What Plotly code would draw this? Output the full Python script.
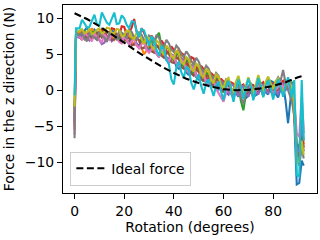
import plotly.graph_objects as go

# common rotation grid (degrees)
x_start = [0.0, 0.6]
x_mid = list(range(2, 87))  # 2, 3, ..., 86 degrees
x_end = [87.5, 88.5, 89.5, 90.5, 91.5, 92.3]
rotation = x_start + x_mid + x_end

run_blue = [-4.5, 8.0,
            7.6, 7.2, 8.3, 8.7, 7.9, 7.4, 8.4, 8.0, 7.7, 8.5,
            8.2, 7.3, 7.5, 8.3, 8.0, 7.4, 7.2, 7.9, 7.8, 7.0,
            6.6, 7.6, 7.3, 6.5, 6.1, 7.1, 6.9, 5.8, 5.4, 6.5,
            6.0, 5.1, 4.6, 5.6, 5.2, 4.2, 3.9, 4.9, 4.4, 3.3,
            3.0, 4.0, 3.6, 2.5, 2.1, 3.1, 2.9, 1.8, 1.5, 2.4,
            2.0, 0.9, 0.6, 1.7, 1.4, 0.3, 0.1, 1.2, 0.8, -0.3,
            -0.6, 0.9, 0.7, -0.4, -0.9, 0.6, 0.5, -1.1, -0.8, 0.9,
            0.6, -0.7, -0.5, 1.0, 0.9, -0.3, -0.6, 1.3, 1.1, -0.5,
            -1.0, 0.2, 0.8, -1.5, -4.6,
            0.5, -4.0, -13.1, -12.9, -9.8, -10.5]
run_orange = [-3.5, 8.1,
              7.9, 8.4, 7.4, 7.8, 8.2, 8.6, 7.6, 7.2, 8.3, 7.9,
              7.5, 8.0, 8.1, 7.4, 7.0, 7.7, 7.8, 7.2, 6.8, 7.1,
              7.5, 6.9, 6.2, 7.2, 6.9, 5.9, 5.0, 5.5, 6.4, 6.0,
              5.3, 6.3, 6.0, 5.1, 4.6, 5.0, 5.4, 4.7, 4.0, 4.9,
              5.8, 4.1, 3.2, 4.3, 3.9, 3.0, 2.4, 3.3, 3.0, 2.0,
              1.5, 2.6, 2.2, 1.2, 0.8, 1.9, 1.6, 0.5, 0.0, 1.1,
              0.9, 0.2, -0.4, 0.9, 0.6, -0.2, -0.7, 0.2, 0.4, 0.8,
              -0.6, 0.1, 0.7, 0.3, -0.5, 0.4, 0.9, 0.6, -0.3, 0.5,
              1.2, 0.6, 0.1, 1.0, 0.9,
              0.5, -2.5, -8.5, -9.0, -6.0, -7.5]
run_green = [-2.5, 7.8,
             7.7, 8.0, 8.2, 7.4, 7.5, 8.1, 8.0, 7.3, 7.4, 8.2,
             8.1, 7.5, 7.2, 8.0, 7.9, 7.1, 6.9, 7.8, 7.6, 6.8,
             6.5, 7.2, 7.4, 6.3, 6.0, 7.1, 7.0, 5.9, 5.6, 6.9,
             6.6, 7.4, 8.0, 6.2, 5.1, 6.0, 5.7, 4.6, 4.2, 5.2,
             4.8, 3.6, 3.3, 4.2, 3.9, 2.8, 2.2, 3.2, 2.9, 1.6,
             1.2, 2.4, 2.1, 0.9, 0.4, 1.6, 1.4, 0.1, -0.3, 1.2,
             1.0, -0.5, -1.0, 0.4, 0.8, -1.5, -2.8, -0.6, 0.5, 0.9,
             -1.2, -0.3, 0.6, 0.1, -0.8, 0.2, 1.0, 0.4, -0.6, 0.3,
             0.8, 0.1, -0.2, 0.9, 0.4,
             1.2, -1.5, -7.5, -8.0, -4.0, -6.0]
run_red = [-5.5, 7.7,
           7.4, 7.0, 8.0, 7.8, 7.2, 7.6, 7.9, 7.1, 7.5, 8.4,
           8.3, 7.4, 7.7, 8.6, 8.5, 7.5, 7.6, 8.9, 8.8, 7.6,
           8.0, 8.7, 9.9, 8.1, 7.4, 8.6, 8.0, 7.0, 6.8, 7.6,
           7.1, 6.2, 5.9, 6.9, 6.4, 5.5, 5.0, 6.1, 5.6, 4.5,
           4.3, 5.2, 4.9, 3.7, 3.3, 4.6, 4.4, 3.1, 2.5, 3.4,
           2.9, 1.8, 1.4, 2.4, 2.0, 0.9, 0.5, 1.6, 1.2, 0.1,
           -0.2, 1.1, 0.9, -0.1, -0.5, 0.6, 0.8, -0.2, -0.7, 0.5,
           0.7, 0.0, -0.4, 0.8, 1.1, 0.2, -0.2, 0.6, 0.9, -0.1,
           0.0, 1.0, 1.3, 0.5, 0.2,
           0.8, -3.0, -9.5, -9.0, -5.0, -8.0]
run_purple = [-4.0, 7.4,
              7.3, 7.7, 7.8, 7.2, 6.9, 7.5, 7.6, 7.1, 7.0, 6.4,
              6.6, 7.4, 7.5, 6.8, 7.1, 7.6, 7.8, 6.9, 7.2, 7.0,
              6.5, 6.9, 7.3, 6.4, 6.0, 6.6, 6.8, 5.9, 5.4, 5.8,
              6.1, 5.2, 4.9, 5.8, 5.5, 4.6, 4.3, 5.0, 4.8, 3.8,
              3.5, 4.5, 4.2, 3.0, 2.6, 3.5, 3.3, 2.2, 1.8, 2.6,
              2.4, 1.3, 0.9, 1.9, 1.7, 0.6, 0.3, 1.3, 1.0, -0.1,
              -0.4, 0.9, 0.7, -0.2, -0.8, 0.4, 0.6, -0.5, -0.9, 0.6,
              0.4, -0.2, -0.6, 0.6, 0.8, -0.1, -0.4, 0.9, 0.7, -0.2,
              -0.5, 0.6, 1.0, 0.0, 0.3,
              1.0, -2.0, -8.0, -8.5, -4.5, -7.0]
run_brown = [-5.0, 7.6,
             7.6, 7.9, 7.1, 7.5, 7.9, 7.2, 7.3, 8.0, 8.0, 7.3,
             7.4, 8.1, 7.9, 7.0, 7.1, 7.8, 7.6, 6.8, 6.9, 7.4,
             7.2, 6.2, 6.4, 7.2, 7.0, 5.8, 5.9, 6.8, 6.6, 5.4,
             5.2, 6.1, 5.9, 4.8, 4.5, 5.3, 5.1, 3.9, 3.8, 4.6,
             4.4, 3.2, 3.0, 3.8, 3.6, 2.3, 2.0, 2.9, 2.7, 1.5,
             1.3, 2.1, 1.9, 0.8, 0.6, 1.5, 1.3, 0.1, -0.1, 0.8,
             0.6, -0.3, -0.6, 0.6, 0.4, -0.6, -0.9, 0.1, 0.3, -0.4,
             -0.7, 0.2, 0.5, -0.1, -0.4, 0.6, 0.8, -0.2, -0.5, 0.5,
             0.9, 0.0, -0.3, 0.4, 0.7,
             0.2, -2.5, -10.0, -9.5, -6.5, -8.5]
run_pink = [-6.2, 7.5,
            7.5, 7.0, 8.1, 7.7, 7.3, 6.8, 7.9, 7.4, 7.1, 6.6,
            7.8, 7.3, 7.0, 7.7, 7.6, 7.2, 6.7, 6.5, 7.5, 7.0,
            6.3, 6.8, 7.1, 6.2, 5.8, 6.4, 6.7, 5.6, 5.2, 5.7,
            6.0, 5.0, 4.7, 5.7, 5.4, 4.4, 4.0, 4.9, 4.7, 3.7,
            3.2, 4.2, 3.9, 2.8, 2.4, 3.3, 3.1, 2.0, 1.7, 2.6,
            2.3, 1.0, 0.6, 1.7, 1.5, 0.2, -0.5, -1.0, -1.6, -0.4,
            0.4, -0.5, -1.2, 0.2, 0.5, -0.4, -1.0, -0.2, 0.3, 0.5,
            -0.9, -0.2, 0.6, 0.2, -0.7, 0.3, 0.9, 0.5, -0.4, 0.1,
            0.5, 1.2, 0.2, 0.9, 0.7,
            -0.5, -1.4, -6.0, -6.5, -1.0, -5.5]
run_gray = [-6.7, 7.9,
            7.6, 8.0, 7.2, 6.8, 7.9, 7.6, 7.4, 7.0, 8.1, 7.6,
            7.3, 6.7, 8.0, 7.9, 7.5, 7.0, 8.3, 8.0, 7.7, 7.2,
            8.4, 8.1, 7.4, 7.0, 8.0, 7.7, 7.0, 6.8, 7.6, 7.4,
            6.6, 7.7, 7.3, 6.4, 6.0, 7.0, 6.5, 5.6, 5.3, 6.2,
            5.8, 5.0, 4.6, 5.4, 4.9, 4.1, 3.5, 4.5, 4.0, 3.0,
            2.6, 3.4, 3.0, 2.1, 1.6, 2.4, 2.0, 1.0, 0.7, 1.5,
            1.1, 0.3, -0.2, 1.0, 0.6, -1.0, -1.9, -0.4, 0.5, 1.0,
            -1.0, 0.2, 1.3, 0.4, -0.8, 0.7, 1.6, 1.0, 0.0, 1.1,
            1.8, 1.3, 2.8, 1.0, 0.0,
            -1.5, -3.5, -9.0, -10.5, -8.0, -9.5]
run_olive = [-2.3, 8.3,
             8.2, 8.5, 7.9, 8.1, 8.5, 7.8, 8.0, 8.4, 8.6, 7.9,
             8.1, 8.7, 8.6, 8.0, 7.9, 8.5, 8.4, 7.5, 7.6, 8.3,
             8.2, 7.4, 7.1, 8.0, 7.8, 7.0, 6.4, 7.5, 7.2, 6.1,
             5.7, 6.9, 6.6, 5.4, 5.0, 6.2, 5.8, 4.7, 4.4, 5.5,
             5.1, 3.9, 3.6, 4.6, 4.3, 3.0, 2.6, 3.7, 3.4, 2.2,
             1.8, 2.9, 2.7, 1.4, 1.0, 2.2, 1.9, 0.6, 0.3, 1.4,
             1.7, 0.4, -0.4, 1.2, 2.0, 0.5, -0.6, 0.6, 1.8, 0.8,
             -0.5, 0.8, 2.1, 0.9, -0.2, 1.2, 1.9, 0.9, 0.2, 1.3,
             1.6, 0.4, -0.3, 0.8, 1.2,
             0.6, -2.0, -10.2, -9.8, -7.0, -9.0]
run_cyan = [-0.7, 8.6,
            8.6, 9.8, 9.3, 8.7, 8.8, 9.7, 10.5, 9.2, 9.0, 10.8,
            10.2, 9.4, 9.1, 10.0, 10.8, 9.2, 9.3, 10.4, 10.0, 9.1,
            8.6, 9.6, 9.5, 8.2, 7.4, 8.5, 8.3, 7.2, 6.2, 7.5,
            7.0, 5.6, 4.8, 6.1, 5.8, 4.2, 3.6, 1.5, 0.8, 3.2,
            4.0, 2.5, 1.7, 3.3, 2.9, 1.0, 0.1, 1.3, 2.2, 0.6,
            -0.5, 1.0, 1.5, 0.3, -0.8, 0.6, 1.2, -0.2, -1.4, 0.4,
            1.3, 0.2, -1.6, 0.1, 1.5, 0.4, -1.2, 0.3, 1.6, 0.5,
            -1.4, 0.2, 1.7, 0.6, -1.0, 0.5, 1.4, 0.2, -1.3, 0.3,
            1.5, 0.4, -0.9, 0.7, 1.8,
            -1.0, 1.4, -11.8, -12.0, 1.4, -7.0]

runs = [run_blue, run_orange, run_green, run_red, run_purple,
        run_brown, run_pink, run_gray, run_olive, run_cyan]
colors = ["#1f77b4", "#ff7f0e", "#2ca02c", "#d62728", "#9467bd",
          "#8c564b", "#e377c2", "#7f7f7f", "#bcbd22", "#17becf"]

ideal_x = [0, 5, 10, 15, 20, 25, 30, 35, 40, 45, 50, 55, 60, 65, 70, 75, 80, 85, 90, 92]
ideal_y = [10.7, 9.9, 8.9, 7.8, 6.6, 5.4, 4.3, 3.3, 2.4, 1.6, 1.0, 0.5, 0.15, 0.0,
           0.05, 0.25, 0.6, 1.1, 1.8, 2.0]

FONT = "DejaVu Sans"
fig = go.Figure()
for ys, c in zip(runs, colors):
    fig.add_trace(go.Scatter(x=rotation, y=ys, mode="lines",
                             line=dict(color=c, width=2.1), showlegend=False,
                             hoverinfo="skip"))
fig.add_trace(go.Scatter(x=ideal_x, y=ideal_y, mode="lines", name="Ideal force",
                         line=dict(color="black", width=2.1, dash="7px,3.5px")))

axis_common = dict(showline=True, linecolor="black", linewidth=1.1, mirror=True,
                   ticks="outside", ticklen=5, tickwidth=1.1, tickcolor="black",
                   showgrid=False, zeroline=False, automargin=False,
                   tickfont=dict(family=FONT, size=13.9, color="black"))
fig.update_layout(
    width=320, height=240,
    margin=dict(l=63, r=3, t=5, b=47),
    paper_bgcolor="white", plot_bgcolor="white",
    font=dict(family=FONT, size=13.9, color="black"),
    xaxis=dict(range=[-4.65, 97.65], tickvals=[0, 20, 40, 60, 80],
               title=dict(text="Rotation (degrees)", standoff=3,
                          font=dict(family=FONT, size=13.9)), **axis_common),
    yaxis=dict(range=[-14.3, 11.85], tickvals=[-10, -5, 0, 5, 10],
               title=dict(text="Force in the z direction (N)", standoff=6,
                          font=dict(family=FONT, size=13.9)), **axis_common),
    legend=dict(x=0.029, y=0.039, xanchor="left", yanchor="bottom",
                bgcolor="rgba(255,255,255,0.8)", bordercolor="#cccccc", borderwidth=1,
                font=dict(family=FONT, size=13.9), itemwidth=30),
    showlegend=True,
)
fig.write_html("out.html", config={"displayModeBar": False},
               post_script="document.body.style.margin='0';document.body.style.overflow='hidden';")
